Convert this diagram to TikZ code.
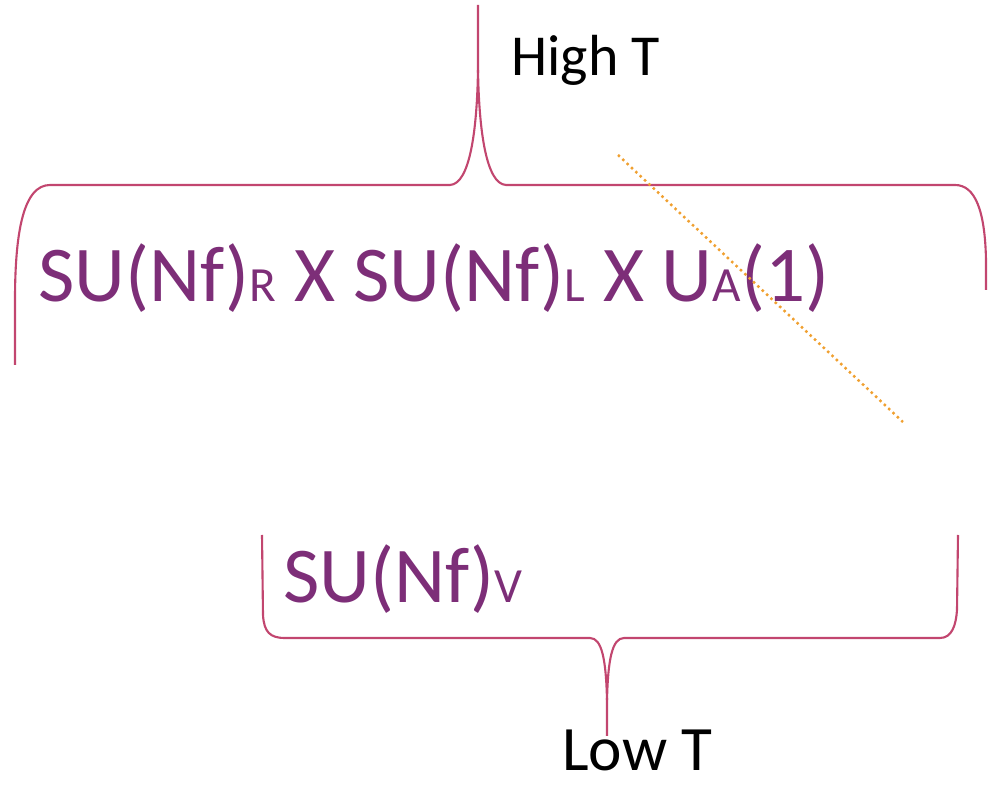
\documentclass[tikz,border=0pt]{standalone}
\usepackage{fontspec}
\setmainfont{Carlito}
\usepackage{tikz}
\usetikzlibrary{positioning, calc}
\definecolor{mGroup}{HTML}{7D2E78}
\definecolor{mBrace}{HTML}{C2466F}
\definecolor{mCut}{HTML}{F0A030}
\newcommand{\smallsub}[1]{{\fontsize{28}{28}\selectfont #1}}

\begin{document}
\begin{tikzpicture}[
    x=0.02cm, y=-0.02cm,
    grp/.style={font=\fontsize{45}{45}\selectfont, text=mGroup, inner sep=0pt, anchor=base west},
    temp/.style={font=\fontsize{33}{33}\selectfont, text=black, inner sep=0pt, anchor=base west},
    brace/.style={draw=mBrace, line width=1.2pt, line join=round},
    cut/.style={draw=mCut, line width=1.4pt, dotted}
]
    \useasboundingbox (0,0) rectangle (988,786);
    % labels
    \node[temp] (high) at (511,76) {High T};
    \node[temp, font=\fontsize{36}{36}\selectfont] (low) at (562,771) {Low T};
    \node[grp] (chiral) at (38,302) {SU(Nf)\smallsub{R} X SU(Nf)\smallsub{L} X U\smallsub{A}(1)};
    \node[grp] (vec) at (283,603) {SU(Nf)\smallsub{V}};
    % brace tips
    \coordinate (hightip) at (478,5);
    \coordinate (lowtip) at (607,736);
    \coordinate (cutA) at (618,155);
    \coordinate (cutB) at (903,422);
    % upper brace
    \draw[brace] (15,365) -- (15,300)
        .. controls (15,230) and (24,185) .. (50,185) -- (450,185)
        .. controls (470,184) and (477,130) .. (478,70) -- (hightip);
    \draw[brace] (478,70)
        .. controls (479,130) and (486,184) .. (506,185) -- (955,185)
        .. controls (975,185) and (985,210) .. (986,260) -- (986,290);
    % lower brace
    \draw[brace] (262,535) -- (263,615)
        .. controls (264,632) and (270,638) .. (285,638) -- (590,638)
        .. controls (602,638) and (606,660) .. (607,700) -- (lowtip);
    \draw[brace] (607,700)
        .. controls (608,660) and (612,638) .. (624,638) -- (940,638)
        .. controls (952,638) and (956,625) .. (957,610) -- (958,535);
    % broken axial symmetry
    \draw[cut] (cutA) -- (cutB);
\end{tikzpicture}
\end{document}
